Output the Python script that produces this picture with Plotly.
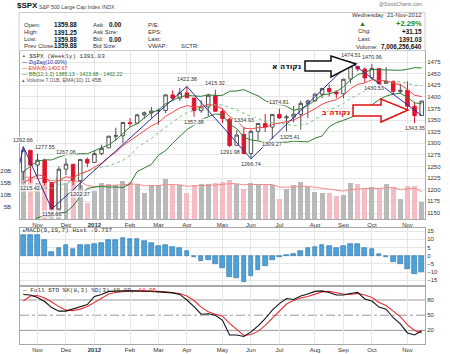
import datetime as dt
import plotly.graph_objects as go

# ---------------- data ----------------
weeks = ["2011-10-24", "2011-10-31", "2011-11-07", "2011-11-14", "2011-11-21", "2011-11-28",
         "2011-12-05", "2011-12-12", "2011-12-19", "2011-12-26",
         "2012-01-02", "2012-01-09", "2012-01-16", "2012-01-23", "2012-01-30",
         "2012-02-06", "2012-02-13", "2012-02-20", "2012-02-27",
         "2012-03-05", "2012-03-12", "2012-03-19", "2012-03-26",
         "2012-04-02", "2012-04-09", "2012-04-16", "2012-04-23", "2012-04-30",
         "2012-05-07", "2012-05-14", "2012-05-21", "2012-05-28",
         "2012-06-04", "2012-06-11", "2012-06-18", "2012-06-25",
         "2012-07-02", "2012-07-09", "2012-07-16", "2012-07-23", "2012-07-30",
         "2012-08-06", "2012-08-13", "2012-08-20", "2012-08-27",
         "2012-09-03", "2012-09-10", "2012-09-17", "2012-09-24",
         "2012-10-01", "2012-10-08", "2012-10-15", "2012-10-22", "2012-10-29",
         "2012-11-05", "2012-11-12", "2012-11-19"]

opens = [1238.72, 1284.96, 1253.21, 1263.85, 1215.62, 1158.67, 1244.33, 1255.05, 1219.74, 1265.38,
         1258.86, 1277.83, 1290.22, 1315.29, 1316.16, 1344.32, 1343.06, 1361.22, 1365.20, 1369.59,
         1370.78, 1404.17, 1397.11, 1408.47, 1397.45, 1370.27, 1378.53, 1403.26, 1368.79, 1351.93,
         1295.73, 1318.90, 1278.04, 1325.72, 1342.42, 1334.90, 1362.33, 1354.66, 1356.50, 1362.34,
         1385.94, 1391.04, 1405.87, 1417.93, 1410.44, 1406.54, 1438.44, 1465.42, 1459.76, 1440.90,
         1460.93, 1428.75, 1433.21, 1410.99, 1414.02, 1379.86, 1359.88]
highs = [1292.66, 1284.96, 1277.55, 1266.98, 1215.62, 1249.86, 1267.06, 1255.05, 1265.42, 1269.37,
         1284.62, 1296.82, 1315.49, 1333.47, 1345.34, 1354.32, 1363.40, 1368.92, 1378.04, 1374.76,
         1405.88, 1414.00, 1419.15, 1422.38, 1397.45, 1392.76, 1406.64, 1415.32, 1373.91, 1354.46,
         1328.49, 1334.93, 1329.05, 1343.32, 1363.46, 1362.17, 1374.81, 1361.54, 1380.39, 1391.74,
         1394.16, 1407.14, 1418.71, 1426.68, 1413.95, 1437.92, 1474.51, 1467.07, 1463.24, 1470.96,
         1460.93, 1464.02, 1435.46, 1428.35, 1433.38, 1388.81, 1391.25]
lows = [1221.06, 1215.42, 1226.64, 1209.43, 1158.66, 1158.67, 1231.47, 1209.47, 1202.37, 1248.64,
        1258.86, 1274.65, 1290.22, 1306.06, 1300.49, 1336.21, 1340.83, 1352.28, 1354.92, 1340.03,
        1365.24, 1391.56, 1391.23, 1397.83, 1357.38, 1365.38, 1358.79, 1367.96, 1343.13, 1291.98,
        1295.73, 1277.25, 1266.74, 1306.62, 1324.41, 1309.27, 1352.77, 1325.41, 1345.07, 1329.24,
        1354.65, 1390.99, 1397.32, 1400.65, 1397.01, 1396.56, 1428.97, 1454.89, 1430.53, 1439.01,
        1425.53, 1428.75, 1403.28, 1405.95, 1373.03, 1343.35, 1359.88]
closes = [1285.09, 1253.23, 1263.85, 1215.65, 1158.67, 1244.28, 1255.19, 1219.66, 1265.33, 1257.60,
          1277.81, 1289.09, 1315.38, 1316.33, 1344.90, 1342.64, 1361.23, 1365.74, 1369.63, 1370.87,
          1404.17, 1397.11, 1408.47, 1398.08, 1370.26, 1378.53, 1403.36, 1369.10, 1353.39, 1295.22,
          1317.82, 1278.04, 1325.66, 1342.84, 1335.02, 1362.16, 1354.68, 1356.78, 1362.66, 1385.97,
          1390.99, 1405.87, 1418.16, 1411.13, 1406.58, 1437.92, 1465.77, 1460.15, 1440.67, 1460.93,
          1428.59, 1433.19, 1411.94, 1414.20, 1379.85, 1359.88, 1391.03]
prev_close_before_first = 1238.25

volume_b = [19.5, 17.0, 15.0, 16.0, 12.5, 17.5, 15.0, 15.5, 14.0, 6.5,
            11.5, 15.0, 14.5, 14.0, 16.0, 15.5, 14.5, 11.0, 14.0, 14.0,
            16.5, 14.0, 14.0, 11.0, 14.0, 14.5, 14.5, 15.0, 15.5, 16.2,
            14.4, 12.3, 15.0, 14.4, 14.6, 14.0, 8.3, 12.6, 14.0, 15.3,
            13.5, 11.4, 11.0, 10.7, 9.7, 10.2, 15.0, 14.4, 13.1, 13.2,
            12.3, 14.4, 13.4, 8.5, 13.9, 13.9, 7.01]
volume_ema10 = [17.45, 17.37, 16.94, 16.77, 15.99, 16.26, 16.03, 15.93, 15.58, 13.93,
                13.49, 13.76, 13.89, 13.91, 14.29, 14.51, 14.51, 13.87, 13.89, 13.91,
                14.38, 14.31, 14.25, 13.66, 13.72, 13.86, 13.99, 14.17, 14.41, 14.74,
                14.68, 14.25, 14.39, 14.39, 14.43, 14.35, 13.25, 13.13, 13.29, 13.66,
                13.63, 13.22, 12.82, 12.43, 11.94, 11.62, 12.23, 12.63, 12.72, 12.81,
                12.71, 13.02, 13.09, 12.26, 12.56, 12.80, 11.45]

ema8 = [1215.0, 1223.5, 1232.5, 1228.7, 1213.2, 1220.1, 1227.9, 1226.1, 1234.8, 1239.9,
        1248.3, 1257.4, 1270.3, 1280.5, 1294.8, 1305.4, 1317.8, 1328.5, 1337.6, 1345.0,
        1358.2, 1366.8, 1376.1, 1381.0, 1378.6, 1378.6, 1384.1, 1380.8, 1374.7, 1357.0,
        1348.3, 1332.7, 1331.1, 1333.7, 1334.0, 1340.3, 1343.5, 1346.4, 1350.0, 1358.0,
        1365.3, 1374.3, 1384.1, 1390.1, 1393.8, 1403.6, 1417.4, 1426.9, 1430.0, 1436.8,
        1435.0, 1434.6, 1429.6, 1426.2, 1415.9, 1403.4, 1400.67]
bb_mid = [1182.9, 1189.1, 1200.8, 1204.0, 1202.7, 1210.2, 1213.5, 1220.4, 1231.6, 1240.1,
          1244.6, 1248.8, 1251.3, 1256.6, 1263.3, 1273.9, 1290.8, 1300.9, 1310.5, 1323.1,
          1334.6, 1346.2, 1357.1, 1366.2, 1370.8, 1376.0, 1380.8, 1383.1, 1382.4, 1376.5,
          1372.2, 1364.5, 1357.9, 1353.4, 1347.3, 1344.3, 1343.0, 1341.2, 1337.8, 1339.2,
          1342.3, 1351.5, 1359.9, 1371.0, 1377.7, 1385.7, 1396.6, 1404.7, 1411.9, 1420.6,
          1426.1, 1430.0, 1431.7, 1432.4, 1429.2, 1425.0, 1423.68]
bb_upper = [1239.3, 1250.2, 1261.7, 1264.4, 1264.2, 1270.4, 1275.5, 1275.6, 1277.8, 1277.5,
            1283.5, 1290.3, 1297.0, 1307.1, 1321.8, 1335.1, 1342.4, 1355.1, 1366.3, 1371.5,
            1385.0, 1392.1, 1399.9, 1403.0, 1402.6, 1401.1, 1404.6, 1402.8, 1403.3, 1412.0,
            1412.7, 1415.6, 1408.4, 1402.1, 1392.0, 1385.6, 1383.5, 1380.0, 1370.9, 1374.6,
            1381.6, 1392.1, 1403.9, 1406.5, 1411.0, 1421.9, 1436.7, 1447.8, 1452.4, 1458.8,
            1458.1, 1458.4, 1457.5, 1457.1, 1459.4, 1462.8, 1462.22]
bb_lower = [1126.4, 1128.0, 1139.9, 1143.6, 1141.3, 1150.1, 1151.5, 1165.3, 1185.4, 1202.7,
            1205.6, 1207.3, 1205.6, 1206.1, 1204.9, 1212.7, 1239.2, 1246.7, 1254.6, 1274.5,
            1284.2, 1300.3, 1314.4, 1329.4, 1339.0, 1350.8, 1357.1, 1363.3, 1361.5, 1341.0,
            1331.7, 1313.3, 1307.4, 1304.7, 1302.5, 1303.0, 1302.5, 1302.4, 1304.7, 1303.8,
            1303.0, 1311.0, 1315.9, 1335.5, 1344.4, 1349.5, 1356.4, 1361.6, 1371.4, 1382.4,
            1394.0, 1401.6, 1405.9, 1407.7, 1399.0, 1387.2, 1385.13]

zigzag_dates = ["2011-10-03", "2011-10-24", "2011-11-21", "2012-04-02", "2012-06-04", "2012-09-10", "2012-11-19"]
zigzag_values = [1074.77, 1292.66, 1158.66, 1422.38, 1266.74, 1474.51, 1359.88]

pivot_dates = ["2011-10-24", "2011-11-07", "2011-12-05", "2011-10-31", "2011-11-21", "2011-12-19",
               "2012-04-02", "2012-04-09", "2012-04-30", "2012-05-14", "2012-05-28", "2012-06-04",
               "2012-06-25", "2012-07-02", "2012-07-09", "2012-09-10", "2012-10-01", "2012-09-24",
               "2012-11-12"]
pivot_values = [1292.66, 1277.55, 1267.06, 1215.42, 1158.66, 1202.37,
                1422.38, 1357.38, 1415.32, 1291.98, 1334.93, 1266.74,
                1309.27, 1374.81, 1325.41, 1474.51, 1470.96, 1430.53,
                1343.35]
pivot_kind = ["h", "h", "h", "l", "l", "l", "h", "l", "h", "l", "h", "l", "l", "h", "l", "h", "h", "l", "l"]

macd_hist = [12.4, 12.4, 12.4, 9.4, 2.4, 4.8, 6.4, 4.0, 6.4, 6.4,
             7.4, 8.0, 9.6, 9.6, 10.8, 10.0, 10.0, 9.0, 7.8, 6.0,
             6.4, 5.4, 4.8, 2.8, -1.0, -3.0, -2.6, -5.0, -7.6, -13.0,
             -13.6, -16.0, -12.6, -8.6, -6.2, -2.6, -1.0, 0.2, 1.0, 2.8,
             4.4, 5.4, 6.4, 5.8, 4.8, 5.8, 7.4, 7.0, 4.8, 4.0,
             0.8, -1.0, -4.0, -5.2, -8.2, -11.2, -9.737]

sto_k = [91, 90, 85, 77, 65, 58, 58, 62, 67, 71, 87, 91, 97, 98, 98, 98, 98, 98, 97, 96,
         95, 94, 91, 80, 67, 52, 53, 50, 40, 11, 11, 8, 17, 29, 43, 60, 73, 83, 81, 88,
         92, 97, 98, 95, 90, 90, 93, 95, 82, 78, 66, 62, 45, 33, 15, 11, 19.09]
sto_d = [78, 88, 89, 84, 76, 67, 60, 59, 62, 67, 75, 83, 92, 95, 97, 98, 98, 98, 98, 97,
         96, 95, 93, 88, 79, 66, 57, 52, 48, 34, 21, 10, 12, 18, 30, 44, 59, 72, 79, 84,
         87, 92, 96, 97, 94, 92, 91, 93, 90, 85, 75, 69, 58, 47, 31, 20, 14.95]
sto_levels = [20, 50, 80]

price_ticks = [1150, 1175, 1200, 1225, 1250, 1275, 1300, 1325, 1350, 1375, 1400, 1425, 1450, 1475]
volume_ticks = [5, 10, 15, 20]
volume_tick_text = ["5B", "10B", "15B", "20B"]
macd_ticks = [-15, -10, -5, 0, 5, 10, 15]

# ---------------- styling ----------------
W, H = 450, 354
SANS = "Liberation Sans, Arial, sans-serif"
MONO = "Liberation Mono, Courier New, monospace"
GRID = "#e6e6e6"
BORDER = "#a8a8a8"
RED = "#e0142d"
TXT = "#333333"


def px(x):
    return x / W


def py(y):
    return 1 - y / H


# month ticks: first weekly bar of each new month
tick_vals, tick_text = [], []
for i in range(1, len(weeks)):
    d0 = dt.date.fromisoformat(weeks[i - 1])
    d1 = dt.date.fromisoformat(weeks[i])
    if d1.month != d0.month:
        tick_vals.append(weeks[i])
        tick_text.append("<b>%d</b>" % d1.year if d1.month == 1 else d1.strftime("%b"))

prevs = [prev_close_before_first] + closes[:-1]
vol_colors = ["#b9b9b9" if c >= p else "#f4bcc5" for c, p in zip(closes, prevs)]

x_range = ["2011-10-20 18:00", "2012-11-22 06:00"]
DAY_MS = 86400000

fig = go.Figure()

# volume (base axis y, behind price)
fig.add_trace(go.Bar(x=weeks, y=volume_b, marker=dict(color=vol_colors, line=dict(width=0)),
                     width=4.9 * DAY_MS, xaxis="x", yaxis="y"))
fig.add_trace(go.Scatter(x=weeks, y=volume_ema10, mode="lines", line=dict(color="#f08c8c", width=1),
                         xaxis="x", yaxis="y"))

# price overlays
fig.add_trace(go.Scatter(x=weeks, y=bb_upper, mode="lines", line=dict(color="#2f7d32", width=1), xaxis="x", yaxis="y2"))
fig.add_trace(go.Scatter(x=weeks, y=bb_lower, mode="lines", line=dict(color="#2f7d32", width=1), xaxis="x", yaxis="y2"))
fig.add_trace(go.Scatter(x=weeks, y=bb_mid, mode="lines", line=dict(color="#7dc27d", width=1, dash="dot"), xaxis="x", yaxis="y2"))
fig.add_trace(go.Scatter(x=weeks, y=ema8, mode="lines", line=dict(color="#f04848", width=1), xaxis="x", yaxis="y2"))
fig.add_trace(go.Candlestick(x=weeks, open=opens, high=highs, low=lows, close=closes,
                             increasing=dict(line=dict(color="#505050", width=1), fillcolor="white"),
                             decreasing=dict(line=dict(color=RED, width=1), fillcolor=RED),
                             whiskerwidth=0, xaxis="x", yaxis="y2"))
fig.add_trace(go.Scatter(x=zigzag_dates, y=zigzag_values, mode="lines", line=dict(color="#2b2b9e", width=1),
                         xaxis="x", yaxis="y2"))

# MACD histogram
fig.add_trace(go.Bar(x=weeks, y=macd_hist, marker=dict(color="#4da2d9", line=dict(color="#2d6f9f", width=0.6)),
                     width=4.6 * DAY_MS, xaxis="x2", yaxis="y3"))

# Stochastics
fig.add_trace(go.Scatter(x=weeks, y=sto_d, mode="lines", line=dict(color="#e8303a", width=1.1), xaxis="x3", yaxis="y4"))
fig.add_trace(go.Scatter(x=weeks, y=sto_k, mode="lines", line=dict(color="#111111", width=1.1), xaxis="x3", yaxis="y4"))

xdom = [px(20), px(425)]
common_x = dict(type="date", range=x_range, tickvals=tick_vals, ticktext=tick_text, showgrid=True,
                gridcolor=GRID, gridwidth=1, showline=True, mirror=True, linecolor=BORDER, linewidth=1,
                ticks="", tickfont=dict(size=6, family=SANS, color=TXT), domain=xdom, fixedrange=True)

fig.update_layout(
    width=W, height=H, margin=dict(l=0, r=0, t=0, b=0),
    paper_bgcolor="white", plot_bgcolor="white", showlegend=False, bargap=0,
    font=dict(family=SANS, size=6, color=TXT),
    xaxis=dict(common_x, anchor="y", rangeslider=dict(visible=False)),
    xaxis2=dict(common_x, anchor="y3", showticklabels=False),
    xaxis3=dict(common_x, anchor="y4", showticklabels=True),
    yaxis=dict(domain=[py(219), py(51)], range=[0, 70], side="left", tickvals=volume_ticks,
               ticktext=volume_tick_text, showgrid=False, zeroline=False, showline=False, ticks="",
               ticklabelstandoff=8, tickfont=dict(size=6, color=TXT)),
    yaxis2=dict(overlaying="y", side="right", anchor="x", range=[1137.1, 1498.7], tickvals=price_ticks,
                showgrid=True, gridcolor=GRID, zeroline=False, showline=True, mirror=True, linecolor=BORDER,
                ticks="", tickfont=dict(size=6, color=TXT)),
    yaxis3=dict(domain=[py(285), py(228)], side="right", anchor="x2", range=[-17.8, 16.85], tickvals=macd_ticks,
                showgrid=True, gridcolor=GRID, zeroline=False, showline=True, mirror=True, linecolor=BORDER,
                ticks="", tickfont=dict(size=6, color=TXT)),
    yaxis4=dict(domain=[py(343.5), py(287)], side="right", anchor="x3", range=[-5.9, 105.7], tickvals=sto_levels,
                showgrid=False, zeroline=False, showline=True, mirror=True, linecolor=BORDER,
                ticks="", tickfont=dict(size=6, color=TXT)),
)

# stochastic reference levels
for lv in sto_levels:
    fig.add_shape(type="line", xref="x3 domain", yref="y4", x0=0, x1=1, y0=lv, y1=lv,
                  line=dict(color="#9a9a9a", width=1, dash="dashdot" if lv == 50 else "solid"), layer="below")

# swing labels on price
label_dx = {1277.55: 7, 1430.53: 9, 1325.41: 3}
for d, v, k in zip(pivot_dates, pivot_values, pivot_kind):
    fig.add_annotation(x=d, y=v, xref="x", yref="y2", text="%.2f" % v, showarrow=False,
                       yanchor="bottom" if k == "h" else "top", yshift=3 if k == "h" else -1,
                       xshift=label_dx.get(v, 0), font=dict(size=5.5, color="#333", family=SANS),
                       bgcolor="rgba(255,255,255,0.75)", borderpad=0)


def txt(x, y, s, size=6, color=TXT, xanchor="left", family=SANS):
    fig.add_annotation(x=px(x), y=py(y), xref="paper", yref="paper", text=s, showarrow=False,
                       xanchor=xanchor, yanchor="middle", font=dict(size=size, color=color, family=family),
                       borderpad=0)


# header
txt(16, 6, "<b>$SPX</b>", size=8, color="#111")
txt(38, 6.5, "S&P 500 Large Cap Index INDX", size=5.3, color="#444")
txt(423, 4.5, "@StockCharts.com", size=5, color="#777", xanchor="right")
fig.add_shape(type="rect", xref="paper", yref="paper", x0=px(19), x1=px(425), y0=py(50.5), y1=py(12.5),
              line=dict(color="#cccccc", width=1))
rows_y = [25, 32.3, 39, 45.7]
for y, lab, val in zip(rows_y, ["Open:", "High:", "Low:", "Prev Close:"], ["1359.88", "1391.25", "1359.88", "1359.88"]):
    txt(22.5, y, lab)
    txt(53, y, "<b>%s</b>" % val, size=6.3, color="#111")
for y, lab in zip(rows_y, ["Ask:", "Ask Size:", "Bid:", "Bid Size:"]):
    txt(91.5, y, lab)
txt(108, rows_y[0], "<b>0.00</b>", size=6.3, color="#111")
txt(108, rows_y[2], "<b>0.00</b>", size=6.3, color="#111")
for y, lab in zip(rows_y, ["P/E:", "EPS:", "Last:", "VWAP:"]):
    txt(146.5, y, lab)
txt(180, rows_y[3], "SCTR:")
txt(423, 15, "Wednesday  21-Nov-2012", xanchor="right")
txt(358, 23.3, "▲", size=7, color="#1e7a1e")
txt(423, 23.3, "<b>+2.29%</b>", size=7.5, color="#1e8a1e", xanchor="right")
txt(357, 31, "Chg:")
txt(423, 31, "<b>+31.15</b>", size=6.3, color="#111", xanchor="right")
txt(357, 39, "Last:")
txt(423, 39, "<b>1391.03</b>", size=6.3, color="#111", xanchor="right")
txt(355, 47.3, "Volume:")
txt(423, 47.3, "<b>7,006,256,640</b>", size=6.3, color="#111", xanchor="right")

# main panel legend
txt(21, 56.7, "▪ $SPX (Weekly) 1391.03", size=6, color="#333", family=MONO)
txt(21, 62.3, "— ZigZag(10.00%)", size=5.3, color="#2b2b9e")
txt(21, 68.3, "— EMA(8) 1400.67", size=5.3, color="#e83030")
txt(21, 74.0, "— BB(12,1.2) 1385.13 - 1423.68 - 1462.22", size=5.3, color="#2f7d32")
txt(21, 79.7, "▴ Volume 7.01B, EMA(10) 11.45B", size=5.3, color="#555")

# indicator legends
txt(21, 230.5, "▴MACD(9,19,7) Hist -9.737", size=6, color="#333", family=MONO)
txt(21, 290, "— Full STO %K(8,3) %D(3) 19.09, <span style='color:#e0202a'>14.95</span>", size=6,
    color="#333", family=MONO)


# Hebrew callouts with outline arrows
def arrow_path(pts):
    return "M " + " L ".join("%.5f,%.5f" % (px(x), py(y)) for x, y in pts) + " Z"


arrow_a = [(305, 61), (331, 61), (331, 56), (356, 64), (331, 77), (331, 71), (305, 71)]
arrow_b = [(353, 105), (381, 105), (381, 99), (408, 110), (381, 122), (381, 116), (353, 116)]
fig.add_shape(type="path", xref="paper", yref="paper", path=arrow_path(arrow_a),
              fillcolor="white", line=dict(color="#111", width=1.5), layer="above")
fig.add_shape(type="path", xref="paper", yref="paper", path=arrow_path(arrow_b),
              fillcolor="white", line=dict(color="#e01010", width=1.5), layer="above")
txt(302, 67, "<b>נקודה א</b>", size=7.5, color="#111", xanchor="right", family="DejaVu Sans")
txt(351, 112.5, "<b>נקודה ב</b>", size=7.5, color="#e01010", xanchor="right", family="DejaVu Sans")

fig.write_html("out.html")
